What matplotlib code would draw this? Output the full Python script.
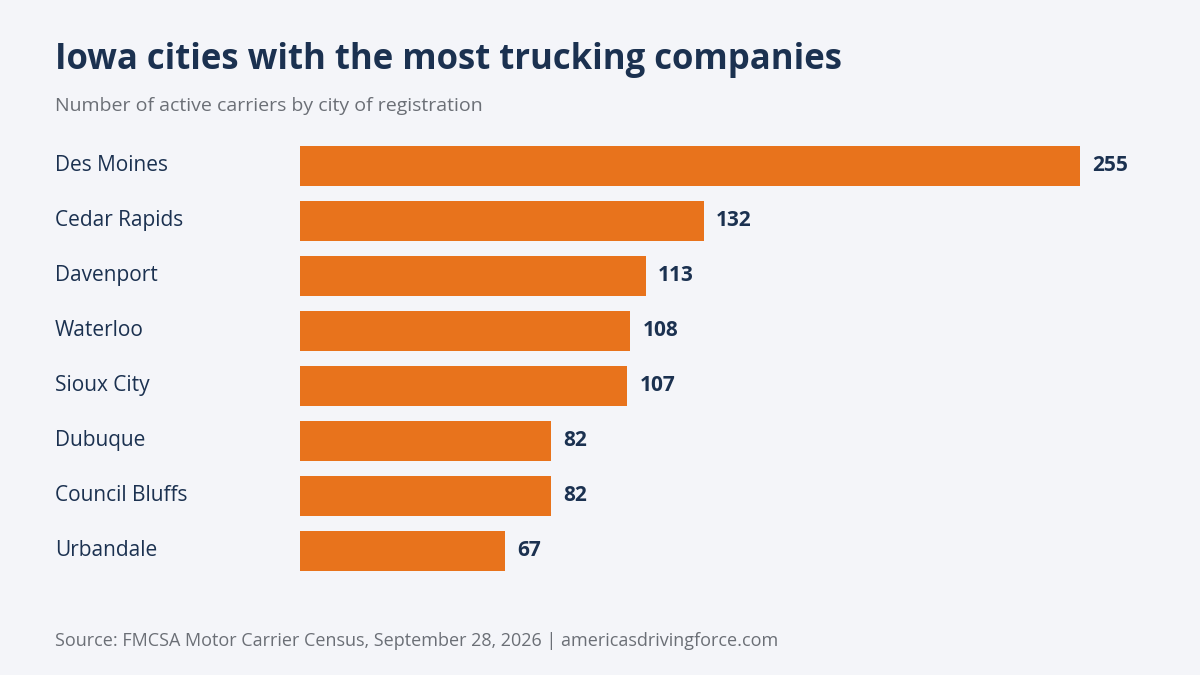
import matplotlib
matplotlib.use("Agg")
import matplotlib.pyplot as plt
import matplotlib.transforms as mtransforms

cities = ["Des Moines", "Cedar Rapids", "Davenport", "Waterloo", "Sioux City", "Dubuque", "Council Bluffs", "Urbandale"]
values = [255, 132, 113, 108, 107, 82, 82, 67]

plt.rcParams['font.family'] = ['Open Sans', 'DejaVu Sans']
bg = "#f4f5f9"
navy = "#1b3150"
fig = plt.figure(figsize=(12, 6.75), dpi=100, facecolor=bg)
ax = fig.add_axes([0.25, 0.143, 0.65, 0.652])
ax.set_facecolor(bg)
y = list(range(len(cities)))
ax.barh(y, values, height=0.73, color="#e8731c")
ax.set_xlim(0, 255)
ax.set_ylim(len(cities) - 0.5, -0.5)
for i, v in enumerate(values):
    ax.text(v + 4, i, str(v), va="center", ha="left", fontsize=15, fontweight="bold", color=navy)
trans = mtransforms.blended_transform_factory(fig.transFigure, ax.transData)
for i, c in enumerate(cities):
    ax.text(55/1200, i, c, transform=trans, va="center", ha="left", fontsize=15, color=navy)
ax.axis("off")

fig.text(55/1200, 1-60/675, "Iowa cities with the most trucking companies", fontsize=25, fontweight="bold", color=navy, va="center", ha="left")
fig.text(55/1200, 1-106/675, "Number of active carriers by city of registration", fontsize=14, color="#6b6f76", va="center", ha="left")
fig.text(55/1200, 1-641/675, "Source: FMCSA Motor Carrier Census, September 28, 2026 | americasdrivingforce.com", fontsize=13, color="#6b6f76", va="center", ha="left")
fig.savefig("out.png", facecolor=bg)
